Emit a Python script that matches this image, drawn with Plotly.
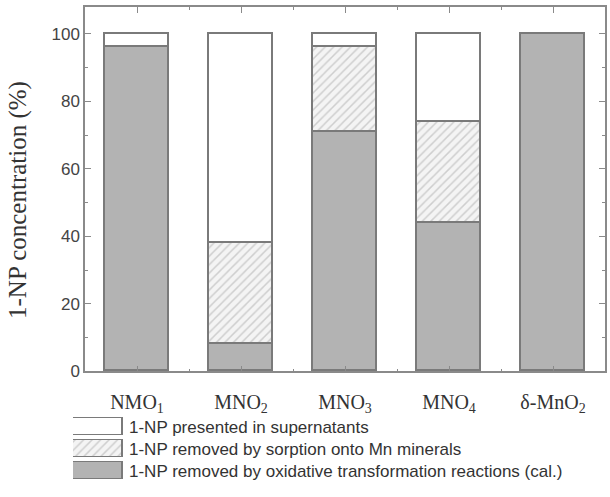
import plotly.graph_objects as go

categories = ["NMO<sub>1</sub>", "MNO<sub>2</sub>", "MNO<sub>3</sub>", "MNO<sub>4</sub>", "δ-MnO<sub>2</sub>"]
oxidative = [96, 8, 71, 44, 100]
sorption = [0, 30, 25, 30, 0]
supernatant = [4, 62, 4, 26, 0]
y_ticks = [0, 20, 40, 60, 80, 100]
legend_labels = [
    "1-NP presented in supernatants",
    "1-NP removed by sorption onto Mn minerals",
    "1-NP removed by oxidative transformation reactions (cal.)",
]

x_pos = list(range(len(categories)))

EDGE = "#7a7a7a"
GRAY = "#b3b3b3"
AX = "#8a8a8a"

styles = [
    dict(color="white", line=dict(color=EDGE, width=1.6)),
    dict(color="#f2f2f2", line=dict(color=EDGE, width=1.6),
         pattern=dict(shape="/", fgcolor="#a8a8a8", bgcolor="#f4f4f4", size=6, solidity=0.25)),
    dict(color=GRAY, line=dict(color=EDGE, width=1.6)),
]

fig = go.Figure()
for vals, st in [(oxidative, styles[2]), (sorption, styles[1]), (supernatant, styles[0])]:
    fig.add_trace(go.Bar(x=x_pos, y=vals, width=0.62, marker=st, showlegend=False,
                         xaxis="x", yaxis="y"))

# legend swatches drawn in a small auxiliary subplot
for i, (lab, st) in enumerate(zip(legend_labels, styles)):
    fig.add_trace(go.Bar(x=[1], y=[i], orientation="h", width=0.78, marker=st,
                         showlegend=False, xaxis="x2", yaxis="y2", hoverinfo="skip"))

W, H = 610, 497
ml, mr, mt, mb = 60, 5, 7, 3
pw, ph = W - ml - mr, H - mt - mb

def px_x(p):
    return (p - ml) / pw

def px_y(p):
    return (H - mb - p) / ph

annotations = []
for i, lab in enumerate(legend_labels):
    annotations.append(dict(text=lab, x=px_x(127), xref="paper", y=i, yref="y2",
                            xanchor="left", yanchor="middle", showarrow=False,
                            font=dict(family="Liberation Sans", size=17, color="#333333")))
annotations.append(dict(text="1-NP concentration (%)", textangle=-90, x=px_x(18), y=px_y(204),
                        xref="paper", yref="paper", showarrow=False,
                        xanchor="center", yanchor="middle",
                        font=dict(family="Liberation Serif", size=25, color="#333333")))

fig.update_layout(
    width=W, height=H,
    margin=dict(l=ml, r=mr, t=mt, b=mb),
    paper_bgcolor="white", plot_bgcolor="white",
    barmode="stack", bargap=0,
    annotations=annotations,
    xaxis=dict(domain=[px_x(85), px_x(605)], range=[-0.5, 4.5], anchor="y",
               tickmode="array", tickvals=x_pos, ticktext=categories,
               ticks="inside", ticklen=6, tickwidth=1.2, tickcolor=AX,
               showline=True, linecolor=AX, linewidth=1.5, mirror="ticks",
               showgrid=False, zeroline=False, ticklabelstandoff=12,
               minor=dict(ticks="inside", ticklen=3, tickcolor=AX, tick0=0.5, dtick=1, showgrid=False),
               tickfont=dict(family="Liberation Serif", size=20, color="#333333")),
    yaxis=dict(domain=[px_y(379), px_y(7)], range=[0, 108], anchor="x",
               tickmode="array", tickvals=y_ticks,
               ticks="inside", ticklen=6, tickwidth=1.2, tickcolor=AX,
               showline=True, linecolor=AX, linewidth=1.5, mirror="ticks",
               showgrid=False, zeroline=False,
               minor=dict(ticks="inside", ticklen=3, tickcolor=AX, tick0=10, dtick=20, showgrid=False),
               tickfont=dict(family="Liberation Sans", size=17, color="#444444")),
    xaxis2=dict(domain=[px_x(73), px_x(123)], range=[0, 1], anchor="y2", visible=False),
    yaxis2=dict(domain=[px_y(492), px_y(425)], range=[2.5, -0.5], anchor="x2", visible=False),
)

fig.write_html("out.html")
